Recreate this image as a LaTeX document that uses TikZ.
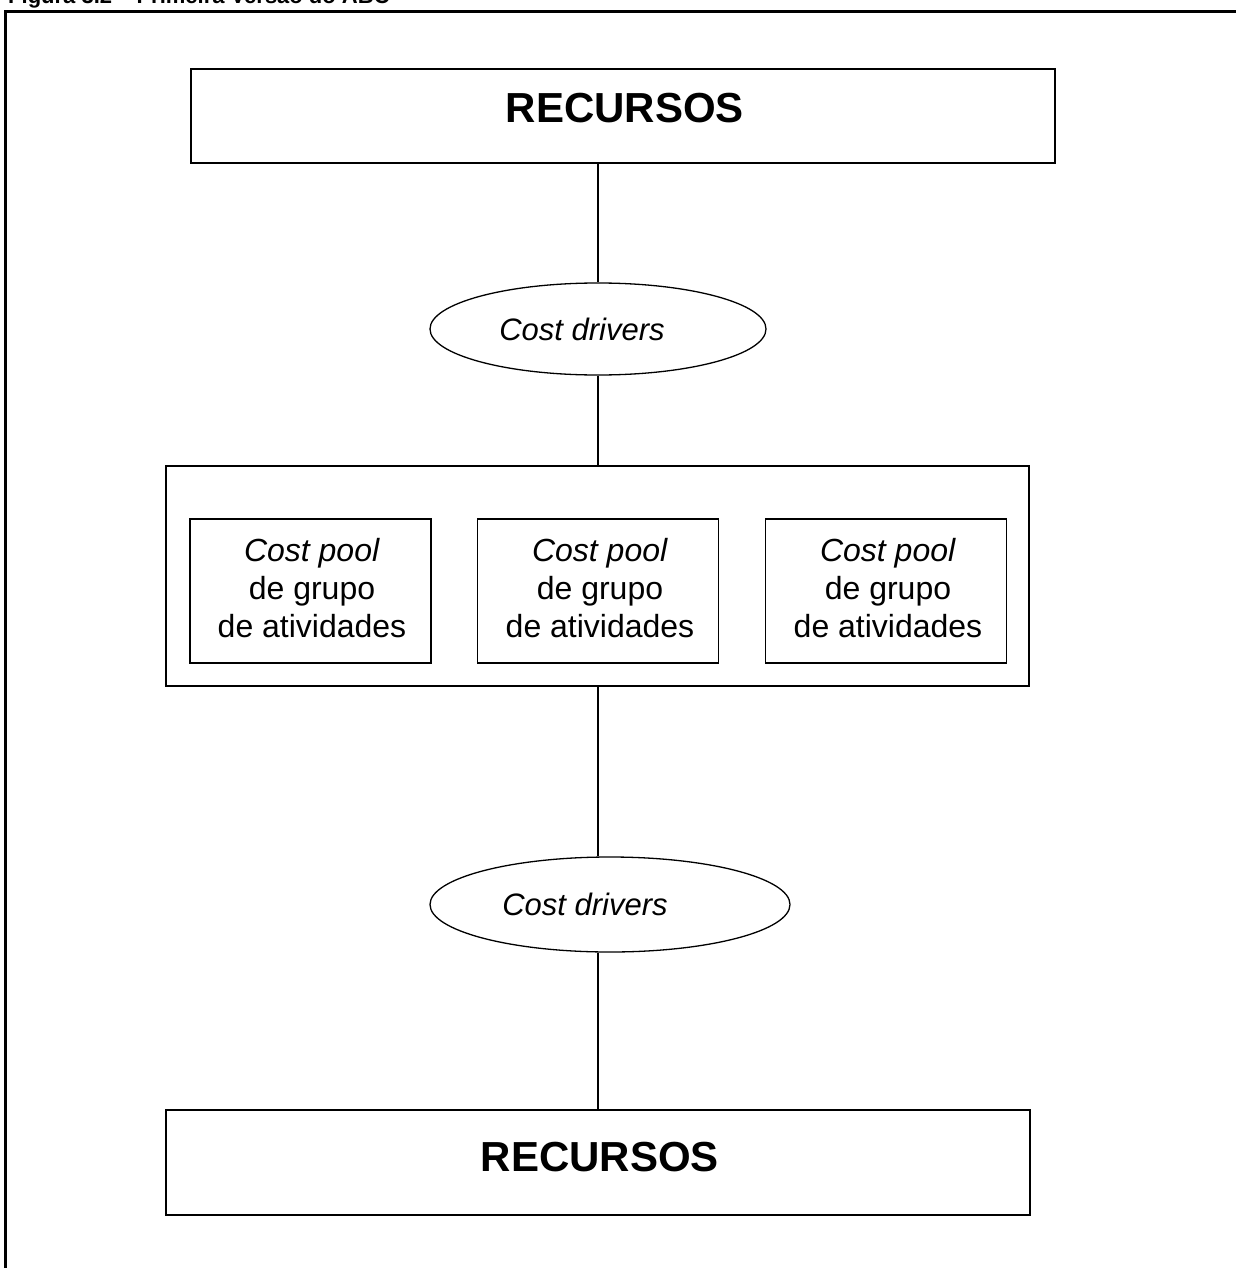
\documentclass[tikz,border=0pt]{standalone}
\usepackage{fontspec}
\setmainfont{Liberation Sans}
\usetikzlibrary{shapes.geometric}

\begin{document}
\begin{tikzpicture}[x=1pt, y=-1pt,
    caixa/.style={draw, line width=1.3pt, rectangle, inner sep=0pt},
    elipse/.style={draw, line width=1.3pt, ellipse, inner sep=0pt},
    titulo/.style={font=\fontsize{42}{50}\selectfont\bfseries, inner sep=0pt},
    pooltxt/.style={font=\fontsize{32}{38}\selectfont, align=center, inner sep=0pt},
    liga/.style={line width=1.5pt}]
    \useasboundingbox (0,0) rectangle (1236,1268);
    \clip (0,0) rectangle (1236,1268);

    % legenda e moldura
    \node[anchor=base west, inner sep=0pt, font=\fontsize{22}{24}\selectfont\bfseries] (legenda) at (8,4) {Figura 3.2 -- Primeira Versão do ABC};
    \draw[line width=3pt] (5,1268) -- (5,12) -- (1236,12);

    % recursos
    \node[caixa, minimum width=864, minimum height=94] (recA) at (623,116) {};
    \node[titulo] (recAtxt) at (625,108) {RECURSOS};

    \node[elipse, minimum width=336, minimum height=92] (drvA) at (598,329) {};
    \node[inner sep=0pt, font=\fontsize{31}{36}\selectfont\itshape] (drvAtxt) at (582,329) {Cost drivers};

    % cost pools
    \node[caixa, minimum width=863, minimum height=220] (pools) at (597.5,576) {};
    \node[caixa, minimum width=241, minimum height=144] (poolA) at (310.5,591) {};
    \node[caixa, minimum width=241, minimum height=144] (poolB) at (598,591) {};
    \node[caixa, minimum width=241, minimum height=144] (poolC) at (886,591) {};
    \node[pooltxt] (poolAtxt) at (312,588) {\textit{Cost pool}\\de grupo\\de atividades};
    \node[pooltxt] (poolBtxt) at (600,588) {\textit{Cost pool}\\de grupo\\de atividades};
    \node[pooltxt] (poolCtxt) at (888,588) {\textit{Cost pool}\\de grupo\\de atividades};

    \node[elipse, minimum width=360, minimum height=95] (drvB) at (610,904.5) {};
    \node[inner sep=0pt, font=\fontsize{31}{36}\selectfont\itshape] (drvBtxt) at (585,904) {Cost drivers};

    \node[caixa, minimum width=864, minimum height=105] (recB) at (598,1162.5) {};
    \node[titulo] (recBtxt) at (600,1157) {RECURSOS};

    % ligacoes
    \draw[liga] (drvA.north |- recA.south) -- (drvA.north);
    \draw[liga] (drvA.south) -- (drvA.south |- pools.north);
    \draw[liga] (recB.north |- pools.south) -- (recB.north |- drvB.north);
    \draw[liga] (recB.north |- drvB.south) -- (recB.north);
\end{tikzpicture}
\end{document}
